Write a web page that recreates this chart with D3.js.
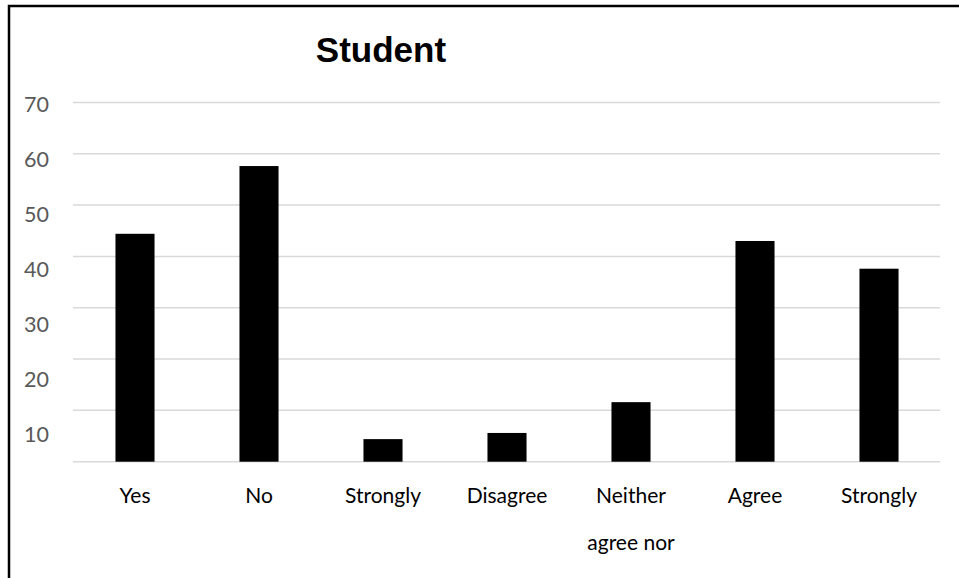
<!DOCTYPE html>
<html>
<head>
<meta charset="utf-8">
<script src="https://cdn.jsdelivr.net/npm/d3@7"></script>
<style>
  html, body { margin: 0; padding: 0; background: #fff; overflow: hidden; }
</style>
</head>
<body>
<div id="chart"></div>
<script>
const categories = ["Yes", "No", "Strongly disagree", "Disagree", "Neither agree nor disagree", "Agree", "Strongly agree"];
const values = [44.4, 57.6, 4.4, 5.6, 11.6, 43.0, 37.6];
// what the picture actually shows under each bar (long labels are cut off)
const tickLines = [["Yes"], ["No"], ["Strongly"], ["Disagree"], ["Neither", "agree nor"], ["Agree"], ["Strongly"]];
const gridValues = [0, 10, 20, 30, 40, 50, 60, 70];
const tickLabels = [10, 20, 30, 40, 50, 60, 70];
const title = "Student";

const width = 959, height = 578;

const svg = d3.select("#chart").append("svg")
  .attr("width", width)
  .attr("height", height);

// Outer frame (right and bottom edges run off the picture)
svg.append("rect")
  .attr("x", 9).attr("y", 6)
  .attr("width", width + 20).attr("height", height + 20)
  .attr("fill", "#fff")
  .attr("stroke", "#000")
  .attr("stroke-width", 2.5);

const x = d3.scaleBand()
  .domain(categories)
  .range([73, 941])
  .paddingInner(0.685)
  .paddingOuter(0.3425);

const y = d3.scaleLinear()
  .domain([0, 70])
  .range([461.7, 102.4]);

// The value labels sit on their own, slightly wider spacing
const yLabel = d3.scaleLinear()
  .domain([10, 70])
  .range([441.7, 111.7]);

// Gridlines
svg.append("g")
  .selectAll("line")
  .data(gridValues)
  .join("line")
  .attr("x1", 73)
  .attr("x2", 940)
  .attr("y1", (d) => y(d))
  .attr("y2", (d) => y(d))
  .attr("stroke", "#d9d9d9")
  .attr("stroke-width", 1.5);

// Y labels
svg.append("g")
  .selectAll("text")
  .data(tickLabels)
  .join("text")
  .attr("x", 49)
  .attr("y", (d) => yLabel(d))
  .attr("text-anchor", "end")
  .attr("fill", "#595959")
  .attr("font-family", "Lato, 'Open Sans', sans-serif")
  .attr("font-size", "21.5px")
  .text((d) => d);

// Bars
svg.append("g")
  .selectAll("rect")
  .data(values)
  .join("rect")
  .attr("x", (d, i) => x(categories[i]))
  .attr("width", x.bandwidth())
  .attr("y", (d) => y(d))
  .attr("height", (d) => y(0) - y(d))
  .attr("fill", "#000");

// X labels
const xl = svg.append("g")
  .selectAll("text")
  .data(categories)
  .join("text")
  .attr("x", (d) => x(d) + x.bandwidth() / 2)
  .attr("y", 502.5)
  .attr("text-anchor", "middle")
  .attr("fill", "#000")
  .attr("font-family", "Lato, 'Open Sans', sans-serif")
  .attr("font-size", "21px");

xl.selectAll("tspan")
  .data((d, i) => tickLines[i])
  .join("tspan")
  .attr("x", function () { return this.parentNode.getAttribute("x"); })
  .attr("dy", (d, j) => (j === 0 ? 0 : 47.5))
  .text((d) => d);

// Title
svg.append("text")
  .attr("x", 381)
  .attr("y", 62)
  .attr("text-anchor", "middle")
  .attr("font-family", "'Liberation Sans', Arial, sans-serif")
  .attr("font-weight", "bold")
  .attr("font-size", "35px")
  .attr("fill", "#000")
  .text(title);
</script>
</body>
</html>
